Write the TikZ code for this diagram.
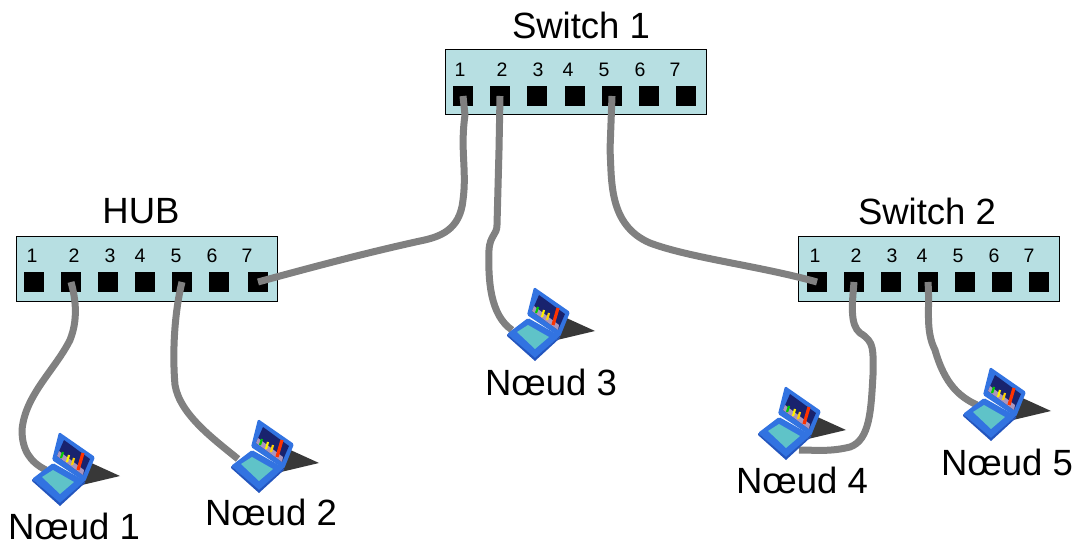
\documentclass[tikz,border=0pt]{standalone}
\usepackage{fontspec}
\setmainfont{Liberation Sans}
\definecolor{boxfill}{RGB}{183,223,226}
\definecolor{cablegray}{RGB}{128,128,128}
\definecolor{lapblue}{RGB}{50,115,225}
\definecolor{lapedge}{RGB}{35,85,190}
\definecolor{lapscreen}{RGB}{25,35,110}
\definecolor{lapglow}{RGB}{170,150,190}
\definecolor{lapkeys}{RGB}{95,195,200}
\tikzset{
  devbox/.style={draw=black,line width=1pt,fill=boxfill,minimum width=#1,minimum height=65pt,inner sep=0pt},
  portsq/.style={fill=black,minimum size=20.5pt,inner sep=0pt},
  portnum/.style={font=\fontsize{19.5}{19.5}\selectfont,inner sep=0pt},
  devtitle/.style={font=\fontsize{36.5}{36.5}\selectfont,inner sep=0pt},
  cable/.style={draw=cablegray,line width=7pt,line join=round},
}
\newcommand{\laptop}[2]{%
 \begin{scope}[shift={(#1,#2)}]
  \fill[black!78] (55,29) -- (88,44) -- (50,53) -- cycle;
  \fill[lapblue,rounded corners=1.5pt] (27,0) -- (63,25) -- (53,50) -- (20,28) -- cycle;
  \fill[lapscreen] (32,8) -- (58,27) -- (51,43) -- (25,24) -- cycle;
  \fill[lapglow] (25,24) -- (27,19) -- (52,38) -- (51,43) -- cycle;
  \draw[line width=2.2pt,green!80!black] (29,26) -- (31,20);
  \draw[line width=2.2pt,yellow] (35,30) -- (37,23);
  \draw[line width=2.2pt,yellow!70!orange] (40,33) -- (42,26);
  \draw[line width=3.2pt,red!60!orange] (46,38) -- (51,21);
  \fill[lapblue,rounded corners=1.5pt] (21,31) -- (53,49) -- (28,72) -- (0,47) -- cycle;
  \fill[lapkeys] (21,38) -- (42,50) -- (28,62) -- (10,45) -- cycle;
  \fill[lapedge] (0,47) -- (28,71) -- (53,49) -- (53,51) -- (28,74) -- (0,49) -- cycle;
 \end{scope}}
\begin{document}
\begin{tikzpicture}[x=1pt,y=-1pt]
\useasboundingbox (0,0) rectangle (1079,545);
% boxes
\node[devbox=261pt,anchor=north west] (sw1) at (444.5,49.5) {};
\node[devbox=261pt,anchor=north west] (hub) at (15.5,236) {};
\node[devbox=261pt,anchor=north west] (sw2) at (797.5,236) {};
% titles
\node[devtitle] (tsw1) at (581,25) {Switch 1};
\node[devtitle] (thub) at (141,211) {HUB};
\node[devtitle] (tsw2) at (927,211) {Switch 2};
% ports
\foreach \n/\x/\l/\lx in {1/463/1/460,2/500/2/502,3/537/3/538,4/575/4/568,5/612/5/604,6/649/6/640,7/686/7/675}{
  \node[portsq] (a\n) at (\x,96) {};
  \node[portnum] (la\n) at (\lx,70) {\l};
}
\foreach \n/\x/\l/\lx in {1/34/1/32,2/71/2/74,3/108/3/110,4/145/4/140,5/182/5/176,6/219/6/212,7/258/7/247}{
  \node[portsq] (h\n) at (\x,282) {};
  \node[portnum] (lh\n) at (\lx,256) {\l};
}
\foreach \n/\x/\l/\lx in {1/817/1/815,2/854/2/856,3/891/3/892,4/928/4/922,5/965/5/958,6/1002/6/994,7/1039/7/1029}{
  \node[portsq] (b\n) at (\x,282) {};
  \node[portnum] (lb\n) at (\lx,256) {\l};
}
% cables (under the laptops)
\coordinate (n1) at (46,470);
\coordinate (n2) at (238,459);
\coordinate (n3) at (512,330);
\coordinate (n4) at (799,450);
\coordinate (n5) at (977,405);
\draw[cable] (a1.center) -- (465,115) .. controls (460,150) and (467,170) .. (463,200) .. controls (460,230) and (440,237) .. (420,241) .. controls (370,252) and (320,265) .. (h7.center);
\draw[cable] (a2.center) -- (499,150) -- (497,225) .. controls (497,235) and (490,235) .. (489,250) .. controls (488,280) and (490,315) .. (n3);
\draw[cable] (a5.center) -- (610,150) .. controls (612,180) and (608,225) .. (650,243) .. controls (690,258) and (760,266) .. (b1.center);
\draw[cable] (h2.center) .. controls (76,300) and (78,320) .. (70,340) .. controls (55,370) and (25,395) .. (22,430) .. controls (22,450) and (30,462) .. (n1);
\draw[cable] (h5.center) .. controls (175,310) and (172,350) .. (175,385) .. controls (180,415) and (215,440) .. (n2);
\draw[cable] (b2.center) .. controls (852,305) and (850,325) .. (860,333) .. controls (875,342) and (873,350) .. (873,375) .. controls (871,410) and (870,440) .. (850,447) .. controls (830,452) and (815,450) .. (n4);
\draw[cable] (b4.center) .. controls (930,310) and (925,330) .. (935,350) .. controls (945,385) and (960,397) .. (n5);
% laptops
\laptop{32}{432}
\laptop{231}{419}
\laptop{507}{287}
\laptop{758}{386}
\laptop{963}{367}
% labels
\node[devtitle] (ln1) at (74,526) {Nœud 1};
\node[devtitle] (ln2) at (271,512) {Nœud 2};
\node[devtitle] (ln3) at (551,382) {Nœud 3};
\node[devtitle] (ln4) at (802,480) {Nœud 4};
\node[devtitle] (ln5) at (1007,462) {Nœud 5};
\end{tikzpicture}
\end{document}
